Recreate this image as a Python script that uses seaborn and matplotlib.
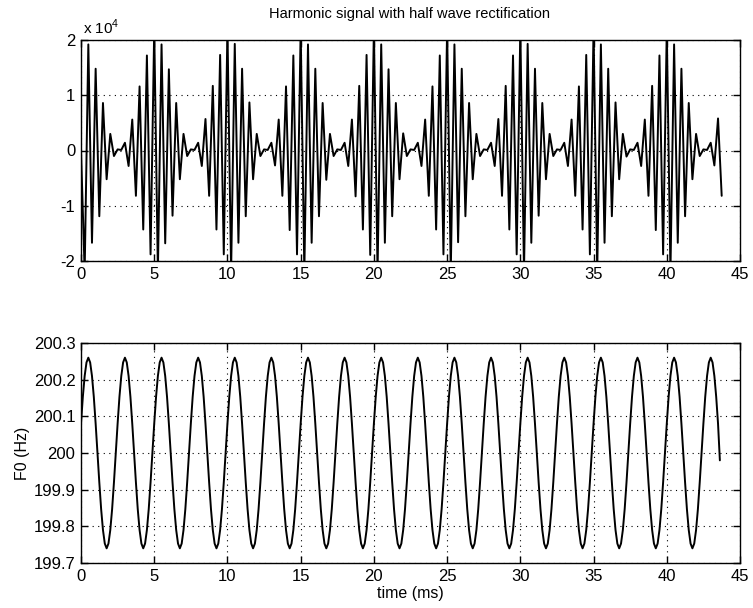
import numpy as np
import pandas as pd
import matplotlib
matplotlib.use("Agg")
import matplotlib.pyplot as plt
import seaborn as sns

# ---------------- data ----------------
signal_step_ms = 0.25
f0_step_ms = 0.125

# top panel: signal extrema (units of 1e4), one 5 ms period per row
signal_x1e4 = [
    0.00, -2.20, 1.92, -1.67, 1.48, -1.19, 0.86, -0.52, 0.30, -0.10, 0.02, 0.01, 0.14, -0.28, 0.56, -0.82, 1.16, -1.43, 1.72, -1.88,
    2.20, -2.20, 1.92, -1.68, 1.47, -1.18, 0.86, -0.52, 0.30, -0.10, 0.02, 0.01, 0.14, -0.28, 0.57, -0.82, 1.17, -1.43, 1.73, -1.88,
    2.20, -2.20, 1.93, -1.67, 1.48, -1.19, 0.87, -0.52, 0.30, -0.10, 0.02, 0.01, 0.14, -0.27, 0.56, -0.82, 1.16, -1.44, 1.72, -1.88,
    2.20, -2.20, 1.92, -1.67, 1.48, -1.19, 0.86, -0.53, 0.30, -0.10, 0.02, 0.01, 0.14, -0.28, 0.56, -0.83, 1.17, -1.43, 1.73, -1.89,
    2.20, -2.20, 1.92, -1.67, 1.47, -1.19, 0.86, -0.52, 0.31, -0.10, 0.02, 0.01, 0.14, -0.28, 0.56, -0.82, 1.16, -1.43, 1.72, -1.88,
    2.20, -2.20, 1.92, -1.66, 1.48, -1.19, 0.86, -0.52, 0.30, -0.10, 0.02, 0.01, 0.14, -0.28, 0.57, -0.82, 1.17, -1.43, 1.72, -1.88,
    2.20, -2.20, 1.93, -1.67, 1.48, -1.18, 0.86, -0.52, 0.30, -0.10, 0.02, 0.01, 0.14, -0.28, 0.56, -0.82, 1.16, -1.43, 1.73, -1.88,
    2.20, -2.20, 1.92, -1.67, 1.48, -1.19, 0.87, -0.52, 0.30, -0.11, 0.02, 0.01, 0.14, -0.28, 0.56, -0.82, 1.17, -1.44, 1.72, -1.88,
    2.20, -2.20, 1.92, -1.67, 1.48, -1.19, 0.86, -0.52, 0.30, -0.10, 0.02, 0.01, 0.14, -0.27, 0.58, -0.82,
]

# bottom panel: F0 (Hz) samples, one 2.5 ms cycle per row
f0_hz = [
    200.080, 200.153, 200.210, 200.247, 200.260, 200.247, 200.210, 200.153, 200.080, 200.000, 199.920, 199.847, 199.790, 199.753, 199.740, 199.753, 199.790, 199.847, 199.920, 200.000,
    200.080, 200.153, 200.210, 200.247, 200.260, 200.247, 200.210, 200.153, 200.080, 200.000, 199.920, 199.847, 199.790, 199.753, 199.740, 199.753, 199.790, 199.847, 199.920, 200.000,
    200.080, 200.153, 200.210, 200.247, 200.260, 200.247, 200.210, 200.153, 200.080, 200.000, 199.920, 199.847, 199.790, 199.753, 199.740, 199.753, 199.790, 199.847, 199.920, 200.000,
    200.080, 200.153, 200.210, 200.247, 200.260, 200.247, 200.210, 200.153, 200.080, 200.000, 199.920, 199.847, 199.790, 199.753, 199.740, 199.753, 199.790, 199.847, 199.920, 200.000,
    200.080, 200.153, 200.210, 200.247, 200.260, 200.247, 200.210, 200.153, 200.080, 200.000, 199.920, 199.847, 199.790, 199.753, 199.740, 199.753, 199.790, 199.847, 199.920, 200.000,
    200.080, 200.153, 200.210, 200.247, 200.260, 200.247, 200.210, 200.153, 200.080, 200.000, 199.920, 199.847, 199.790, 199.753, 199.740, 199.753, 199.790, 199.847, 199.920, 200.000,
    200.080, 200.153, 200.210, 200.247, 200.260, 200.247, 200.210, 200.153, 200.080, 200.000, 199.920, 199.847, 199.790, 199.753, 199.740, 199.753, 199.790, 199.847, 199.920, 200.000,
    200.080, 200.153, 200.210, 200.247, 200.260, 200.247, 200.210, 200.153, 200.080, 200.000, 199.920, 199.847, 199.790, 199.753, 199.740, 199.753, 199.790, 199.847, 199.920, 200.000,
    200.080, 200.153, 200.210, 200.247, 200.260, 200.247, 200.210, 200.153, 200.080, 200.000, 199.920, 199.847, 199.790, 199.753, 199.740, 199.753, 199.790, 199.847, 199.920, 200.000,
    200.080, 200.153, 200.210, 200.247, 200.260, 200.247, 200.210, 200.153, 200.080, 200.000, 199.920, 199.847, 199.790, 199.753, 199.740, 199.753, 199.790, 199.847, 199.920, 200.000,
    200.080, 200.153, 200.210, 200.247, 200.260, 200.247, 200.210, 200.153, 200.080, 200.000, 199.920, 199.847, 199.790, 199.753, 199.740, 199.753, 199.790, 199.847, 199.920, 200.000,
    200.080, 200.153, 200.210, 200.247, 200.260, 200.247, 200.210, 200.153, 200.080, 200.000, 199.920, 199.847, 199.790, 199.753, 199.740, 199.753, 199.790, 199.847, 199.920, 200.000,
    200.080, 200.153, 200.210, 200.247, 200.260, 200.247, 200.210, 200.153, 200.080, 200.000, 199.920, 199.847, 199.790, 199.753, 199.740, 199.753, 199.790, 199.847, 199.920, 200.000,
    200.080, 200.153, 200.210, 200.247, 200.260, 200.247, 200.210, 200.153, 200.080, 200.000, 199.920, 199.847, 199.790, 199.753, 199.740, 199.753, 199.790, 199.847, 199.920, 200.000,
    200.080, 200.153, 200.210, 200.247, 200.260, 200.247, 200.210, 200.153, 200.080, 200.000, 199.920, 199.847, 199.790, 199.753, 199.740, 199.753, 199.790, 199.847, 199.920, 200.000,
    200.080, 200.153, 200.210, 200.247, 200.260, 200.247, 200.210, 200.153, 200.080, 200.000, 199.920, 199.847, 199.790, 199.753, 199.740, 199.753, 199.790, 199.847, 199.920, 200.000,
    200.080, 200.153, 200.210, 200.247, 200.260, 200.247, 200.210, 200.153, 200.080, 200.000, 199.920, 199.847, 199.790, 199.753, 199.740, 199.753, 199.790, 199.847, 199.920, 200.000,
    200.080, 200.153, 200.210, 200.247, 200.260, 200.247, 200.210, 200.153, 200.080, 199.980,
]

signal_time_ms = np.arange(len(signal_x1e4)) * signal_step_ms
f0_time_ms = np.arange(len(f0_hz)) * f0_step_ms

x_ticks = [0, 5, 10, 15, 20, 25, 30, 35, 40, 45]
top_yticks = [-2, -1, 0, 1, 2]
top_ytick_labels = ["-2", "-1", "0", "1", "2"]
bottom_yticks = [199.7, 199.8, 199.9, 200.0, 200.1, 200.2, 200.3]
bottom_ytick_labels = ["199.7", "199.8", "199.9", "200", "200.1", "200.2", "200.3"]

title_text = "Harmonic signal with half wave rectification"
xlabel_text = "time (ms)"
ylabel_text = "F0 (Hz)"

# ---------------- style ----------------
sns.set_theme(style="white")
plt.rcParams["font.family"] = ["Liberation Sans", "DejaVu Sans"]
plt.rcParams["axes.unicode_minus"] = False
plt.rcParams["mathtext.fontset"] = "custom"
plt.rcParams["mathtext.rm"] = "Liberation Sans"

fig = plt.figure(figsize=(7.53, 6.08), dpi=100)
fig.patch.set_facecolor("white")
ax1 = fig.add_axes([81 / 753, 1 - 261 / 608, 659 / 753, 221 / 608])
ax2 = fig.add_axes([81 / 753, 1 - 563 / 608, 659 / 753, 220 / 608])

df_sig = pd.DataFrame({"time": signal_time_ms, "signal": signal_x1e4})
df_f0 = pd.DataFrame({"time": f0_time_ms, "f0": f0_hz})

sns.lineplot(data=df_sig, x="time", y="signal", ax=ax1, color="black",
             linewidth=1.4, errorbar=None, sort=False)
sns.lineplot(data=df_f0, x="time", y="f0", ax=ax2, color="black",
             linewidth=1.4, errorbar=None, sort=False)

for ax in (ax1, ax2):
    ax.set_xlim(0, 45)
    ax.set_xticks(x_ticks)
    ax.set_xticklabels([str(v) for v in x_ticks])
    ax.set_facecolor("white")
    ax.set_axisbelow(True)
    ax.grid(True, color="black", linestyle=(0, (1, 4)), linewidth=0.8)
    for s in ax.spines.values():
        s.set_visible(True)
        s.set_color("black")
        s.set_linewidth(1.0)
    ax.tick_params(axis="both", which="both", direction="in", length=5, width=1.0,
                   color="black", top=True, right=True, bottom=True, left=True,
                   labelsize=12, labelcolor="black", pad=4)
    ax.set_xlabel("")
    ax.set_ylabel("")

ax1.set_ylim(-2, 2)
ax1.set_yticks(top_yticks)
ax1.set_yticklabels(top_ytick_labels)

ax2.set_ylim(199.7, 200.3)
ax2.set_yticks(bottom_yticks)
ax2.set_yticklabels(bottom_ytick_labels)

ax2.set_xlabel(xlabel_text, fontsize=11.5, color="black", va="center")
ax2.xaxis.set_label_coords(0.5, -0.14)
ax2.set_ylabel(ylabel_text, fontsize=11.5, color="black")
ax2.yaxis.set_label_coords(-0.077, 0.5)

fig.text(410 / 753, 1 - 14 / 608, title_text, ha="center", va="center",
         fontsize=10.5, color="black")
fig.text(83 / 753, 1 - 34 / 608, r"x 10$^{\mathregular{4}}$", ha="left",
         va="baseline", fontsize=11, color="black")

fig.savefig("out.png", dpi=100, facecolor="white")
